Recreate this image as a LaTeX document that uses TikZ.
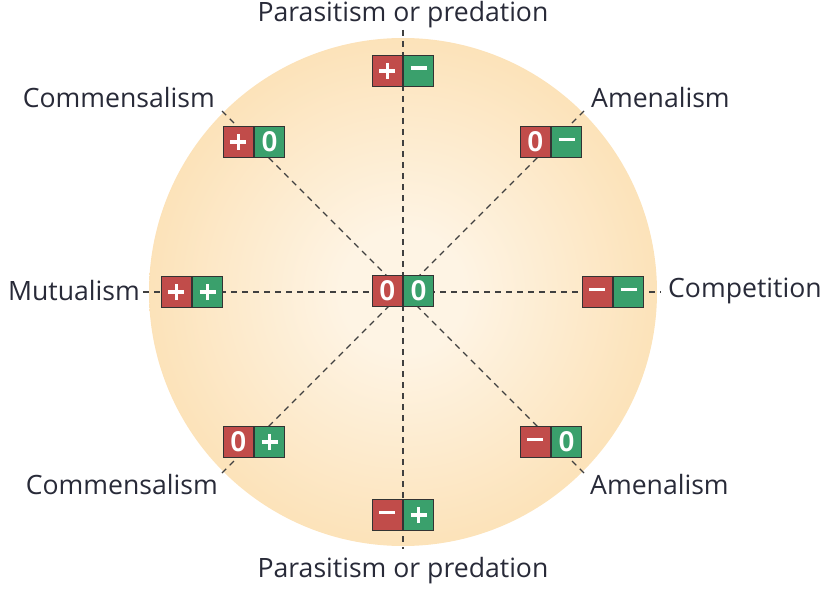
\documentclass[tikz,border=0pt]{standalone}
\usepackage{fontspec}
\setmainfont{Open Sans}
\newfontfamily\digitfont{PT Sans}
\usetikzlibrary{positioning}

\definecolor{boxred}{RGB}{193,76,74}
\definecolor{boxgreen}{RGB}{58,160,108}
\definecolor{discin}{RGB}{254,244,228}
\definecolor{discout}{RGB}{250,207,138}
\definecolor{labeltext}{RGB}{40,42,56}
\pgfdeclareradialshading{discshade}{\pgfpoint{0bp}{0bp}}{color(0bp)=(discin); color(6bp)=(discin); color(46bp)=(discout); color(50bp)=(discout)}

% signs in the boxes
\newcommand\signminus{\rule[5.5pt]{16pt}{3.5pt}}
\newcommand\signplus{\rule[5.5pt]{16pt}{3.5pt}\makebox[0pt][r]{\rule[-0.75pt]{3.5pt}{16pt}\hspace{6.25pt}}}

\begin{document}
\begin{tikzpicture}[x=1pt,y=1pt,
    redhalf/.style={rectangle, draw=black!80, fill=boxred, text=white, line width=1.3pt, minimum width=30pt, minimum height=31pt, inner sep=0pt, font=\digitfont\bfseries\fontsize{28}{28}\selectfont, anchor=east},
    greenhalf/.style={redhalf, fill=boxgreen, anchor=west},
    kindlabel/.style={text=labeltext, font=\fontsize{26.6}{26.6}\selectfont, inner sep=0pt},
    axisline/.style={draw=black!75, line width=1.2pt, dash pattern=on 6pt off 5pt},
    ]
    \useasboundingbox (0,0) rectangle (830,-591);

    %Disc
    \coordinate (c) at (403,-292);
    \shade[shading=discshade] (c) circle (254);

    %Line ends
    \coordinate (n)  at (403,-30);
    \coordinate (s)  at (403,-549);
    \coordinate (w)  at (143,-292);
    \coordinate (e)  at (661,-292);
    \coordinate (nw) at (222,-111);
    \coordinate (ne) at (584,-111);
    \coordinate (sw) at (222,-473);
    \coordinate (se) at (584,-473);

    %Lines
    \draw[axisline] (n) -- (s);
    \draw[axisline] (w) -- (e);
    \draw[axisline] (nw) -- (se);
    \draw[axisline] (ne) -- (sw);

    %Boxes
    \node[redhalf]   (midr)  at (403,-291)     {0};
    \node[greenhalf] (midg)  at (midr.east)    {0};
    \node[redhalf]   (topr)  at (403,-71)      {\signplus};
    \node[greenhalf] (topg)  at (topr.east)    {\signminus};
    \node[redhalf]   (botr)  at (403,-515)     {\signminus};
    \node[greenhalf] (botg)  at (botr.east)    {\signplus};
    \node[redhalf]   (leftr) at (192,-292)     {\signplus};
    \node[greenhalf] (leftg) at (leftr.east)   {\signplus};
    \node[redhalf]   (rightr) at (613,-292)    {\signminus};
    \node[greenhalf] (rightg) at (rightr.east) {\signminus};
    \node[redhalf]   (tlr)   at (254,-142)     {\signplus};
    \node[greenhalf] (tlg)   at (tlr.east)     {0};
    \node[redhalf]   (trr)   at (551,-142)     {0};
    \node[greenhalf] (trg)   at (trr.east)     {\signminus};
    \node[redhalf]   (blr)   at (254,-442)     {0};
    \node[greenhalf] (blg)   at (blr.east)     {\signplus};
    \node[redhalf]   (brr)   at (551,-442)     {\signminus};
    \node[greenhalf] (brg)   at (brr.east)     {0};

    %Labels
    \node[kindlabel] (toplab)   at (403,-15)               {Parasitism or predation};
    \node[kindlabel] (botlab)   at (403,-571)              {Parasitism or predation};
    \node[kindlabel, anchor=east] (mutlab)  at (140,-291)  {Mutualism};
    \node[kindlabel, anchor=west] (complab) at (668,-291)  {Competition};
    \node[kindlabel, anchor=east] (tllab)   at (215,-98)   {Commensalism};
    \node[kindlabel, anchor=east] (bllab)   at (218,-485)  {Commensalism};
    \node[kindlabel, anchor=west] (trlab)   at (591,-98)   {Amenalism};
    \node[kindlabel, anchor=west] (brlab)   at (590,-485)  {Amenalism};
\end{tikzpicture}
\end{document}
